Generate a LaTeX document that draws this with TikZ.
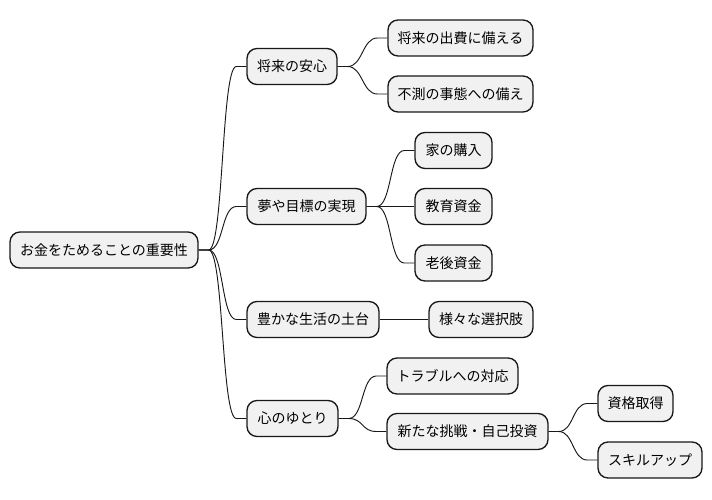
\documentclass[tikz,border=0pt]{standalone}
\usepackage{fontspec}
\setmainfont{Noto Sans CJK JP}
\usetikzlibrary{calc}
\definecolor{boxfill}{HTML}{F1F1F1}
\definecolor{boxline}{HTML}{181818}
\tikzset{
  mm/.style={draw=boxline, fill=boxfill, line width=1pt, rounded corners=7.5pt,
    minimum height=27pt, inner sep=0pt, font=\fontsize{10.5pt}{12pt}\selectfont, text=black},
  conn/.style={draw=boxline, line width=0.7pt}
}
\newcommand{\mmlink}[2]{%
  \draw[conn] (#1.east) -- ($(#1.east)+(10,0)$) .. controls ($(#1.east)+(25,0)$) and ($(#2.west)+(-25,0)$) .. ($(#2.west)+(-10,0)$) -- (#2.west);}
\begin{document}
\begin{tikzpicture}[x=0.75pt, y=-0.75pt]
\useasboundingbox (0,0) rectangle (712,499);
\node[mm, minimum width=141pt] (root) at (104,250) {お金をためることの重要性};
\node[mm, minimum width=67.5pt] (n1) at (292,66.5) {将来の安心};
\node[mm, minimum width=108.75pt] (n11) at (460.5,38) {将来の出費に備える};
\node[mm, minimum width=108.75pt] (n12) at (460.5,94) {不測の事態への備え};
\node[mm, minimum width=89.25pt] (n2) at (306.5,206.5) {夢や目標の実現};
\node[mm, minimum width=57.75pt] (n21) at (453.5,150.5) {家の購入};
\node[mm, minimum width=57.75pt] (n22) at (453.5,206.5) {教育資金};
\node[mm, minimum width=57.75pt] (n23) at (453.5,263) {老後資金};
\node[mm, minimum width=99pt] (n3) at (313,319.5) {豊かな生活の土台};
\node[mm, minimum width=78pt] (n31) at (481,319.5) {様々な選択肢};
\node[mm, minimum width=68.25pt] (n4) at (292.5,418.5) {心のゆとり};
\node[mm, minimum width=98.25pt] (n41) at (452.5,376) {トラブルへの対応};
\node[mm, minimum width=120.75pt] (n42) at (467.5,431.5) {新たな挑戦・自己投資};
\node[mm, minimum width=56.25pt] (n421) at (635.5,403.5) {資格取得};
\node[mm, minimum width=78pt] (n422) at (650,460) {スキルアップ};
\mmlink{root}{n1}
\mmlink{root}{n2}
\mmlink{root}{n3}
\mmlink{root}{n4}
\mmlink{n1}{n11}
\mmlink{n1}{n12}
\mmlink{n2}{n21}
\mmlink{n2}{n22}
\mmlink{n2}{n23}
\mmlink{n3}{n31}
\mmlink{n4}{n41}
\mmlink{n4}{n42}
\mmlink{n42}{n421}
\mmlink{n42}{n422}
\end{tikzpicture}
\end{document}
